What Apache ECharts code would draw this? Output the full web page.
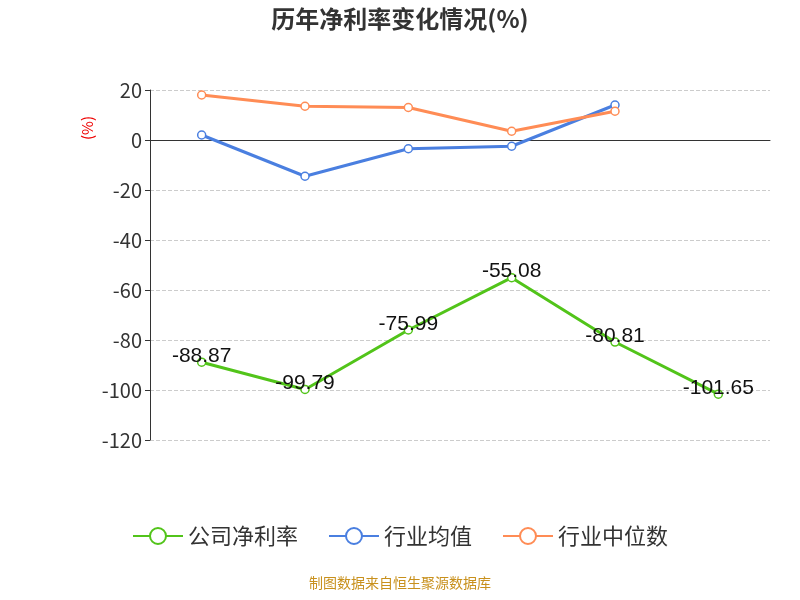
<!DOCTYPE html>
<html><head><meta charset="utf-8">
<script src="https://cdn.jsdelivr.net/npm/echarts@6/dist/echarts.min.js"></script>
<style>body{margin:0}#c{width:800px;height:600px}</style></head>
<body><div id="c"></div>
<script>
var years = ['2021', '2022', '2023', '2024', '2025', '2026H1'];
var company = [-88.87, -99.79, -75.99, -55.08, -80.81, -101.65];
var industryAvg = [2, -14.5, -3.5, -2.5, 14, null];
var industryMid = [18, 13.5, 13, 3.5, 11.5, null];

var chart = echarts.init(document.getElementById('c'));
var font = 'Noto Sans CJK SC';
chart.setOption({
  title: { text: '历年净利率变化情况(%)', left: 'center', top: 2,
    textStyle: { fontSize: 24, fontWeight: 'bold', color: '#333', fontFamily: font } },
  grid: { left: 150, right: 30, top: 90, bottom: 160, containLabel: false, outerBoundsMode: 'none' },
  legend: { bottom: 48, itemWidth: 50, itemHeight: 20, itemGap: 30,
    textStyle: { fontSize: 22, color: '#333', fontFamily: font },
    data: ['公司净利率', '行业均值', '行业中位数'] },
  graphic: [
    { type: 'text', left: 'center', bottom: 10,
      style: { text: '制图数据来自恒生聚源数据库', fill: '#c8901c', fontSize: 14, fontFamily: font } },
    { type: 'text', x: 80, y: 140, rotation: Math.PI / 2,
      style: { text: '(%)', fill: '#e00', fontSize: 15, fontFamily: font } }
  ],
  xAxis: { type: 'category', data: years,
    axisLine: { onZero: true, lineStyle: { color: '#333' } },
    axisTick: { lineStyle: { color: '#333' } },
    axisLabel: { fontSize: 20, color: '#333', margin: 312, fontFamily: font } },
  yAxis: { type: 'value', min: -120, max: 20, interval: 20,
    axisLine: { show: true, lineStyle: { color: '#333' } },
    axisTick: { show: true },
    axisLabel: { fontSize: 20, color: '#333', fontFamily: font },
    splitLine: { lineStyle: { type: 'dashed', color: '#ccc' } } },
  series: [
    { name: '公司净利率', type: 'line', data: company, color: '#52c41a',
      symbol: 'circle', symbolSize: 8, itemStyle: { color: '#fff', borderColor: '#52c41a', borderWidth: 1.5 },
      lineStyle: { width: 3, color: '#52c41a' },
      label: { show: true, position: 'top', fontSize: 21, color: '#111', offset: [0, 14] } },
    { name: '行业均值', type: 'line', data: industryAvg, color: '#4a7fe0',
      symbol: 'circle', symbolSize: 8, itemStyle: { color: '#fff', borderColor: '#4a7fe0', borderWidth: 1.5 },
      lineStyle: { width: 3, color: '#4a7fe0' } },
    { name: '行业中位数', type: 'line', data: industryMid, color: '#ff8c55',
      symbol: 'circle', symbolSize: 8, itemStyle: { color: '#fff', borderColor: '#ff8c55', borderWidth: 1.5 },
      lineStyle: { width: 3, color: '#ff8c55' } }
  ]
});
</script></body></html>
